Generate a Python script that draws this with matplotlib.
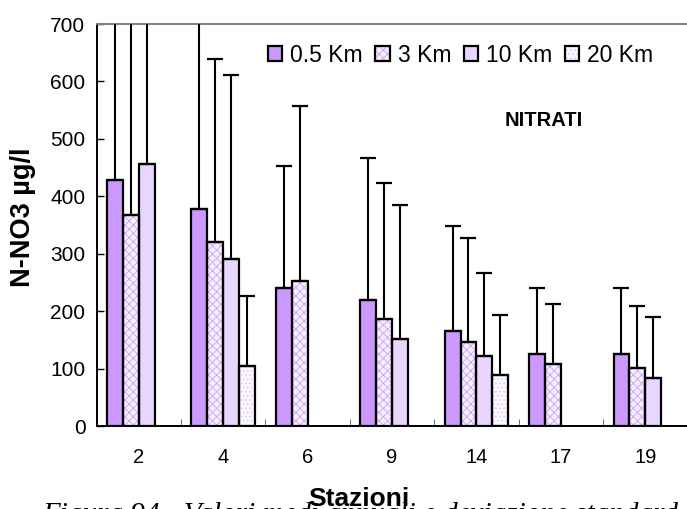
import matplotlib
matplotlib.use("Agg")
import matplotlib.pyplot as plt
import numpy as np
from matplotlib.patches import Patch
from matplotlib.legend_handler import HandlerTuple

plt.rcParams['font.family'] = ['Liberation Sans', 'DejaVu Sans']
plt.rcParams['hatch.linewidth'] = 0.6

stations = ['2', '4', '6', '9', '14', '17', '19']
series = ['0.5 Km', '3 Km', '10 Km', '20 Km']
mean_05 = [428, 378, 241, 219, 166, 125, 125]
mean_3 = [367, 321, 252, 187, 147, 108, 101]
mean_10 = [457, 291, np.nan, 151, 122, np.nan, 83]
mean_20 = [np.nan, 104, np.nan, np.nan, 89, np.nan, np.nan]
sd_05 = [520, 420, 212, 248, 182, 115, 115]
sd_3 = [480, 318, 305, 237, 180, 104, 108]
sd_10 = [400, 320, np.nan, 233, 144, np.nan, 107]
sd_20 = [np.nan, 123, np.nan, np.nan, 105, np.nan, np.nan]

means = [mean_05, mean_3, mean_10, mean_20]
sds = [sd_05, sd_3, sd_10, sd_20]
faces = ['#CC99FF', '#F6EEFF', '#E8D6FF', '#FBF7FF']
hatches = [None, 'xxxx', None, '....']
hatchcols = [None, '#C9A0F5', None, '#DCC6F5']

W, H = 687, 509
fig = plt.figure(figsize=(W / 100, H / 100), dpi=100)
ax = fig.add_axes([96.5 / W, 83 / H, (687.5 - 96.5) / W, (426 - 24) / H])

x = np.arange(len(stations))
w = 0.188
handles = []
for j in range(4):
    pos = x + (j - 1.5) * w
    m = np.array(means[j], dtype=float)
    s = np.array(sds[j], dtype=float)
    if hatches[j]:
        ax.bar(pos, m, w, color=faces[j], hatch=hatches[j], edgecolor=hatchcols[j],
               linewidth=0, zorder=2)
    else:
        ax.bar(pos, m, w, color=faces[j], linewidth=0, zorder=2)
    ax.bar(pos, m, w, fill=False, edgecolor='black', linewidth=1.6, zorder=3)
    ok = ~np.isnan(m)
    ax.errorbar(pos[ok], m[ok], yerr=[np.zeros(ok.sum()), s[ok]], fmt='none',
                ecolor='black', elinewidth=1.5, capsize=5.6, capthick=1.6, zorder=4)
    if hatches[j]:
        h1 = Patch(facecolor=faces[j], hatch=hatches[j], edgecolor=hatchcols[j], linewidth=0)
    else:
        h1 = Patch(facecolor=faces[j], linewidth=0)
    h2 = Patch(fill=False, edgecolor='black', linewidth=1.6)
    handles.append((h1, h2))

ax.set_xlim(-0.5, len(stations) - 0.5)
ax.set_ylim(0, 700)
ax.set_yticks(np.arange(0, 701, 100))
ax.set_xticks(x)
ax.set_xticklabels(stations)
ax.set_xticks(np.arange(0.5, len(stations) - 0.5, 1), minor=True)
ax.tick_params(axis='x', which='major', length=0, pad=16, labelsize=14.5)
ax.tick_params(axis='x', which='minor', direction='in', length=5, color='#555555')
ax.tick_params(axis='y', direction='in', length=5, width=1, pad=8, labelsize=15)

for side in ['left', 'bottom']:
    ax.spines[side].set_color('black')
    ax.spines[side].set_linewidth(1.4)
ax.spines['top'].set_color('#808080')
ax.spines['top'].set_linewidth(1.4)
ax.spines['right'].set_visible(False)

fig.legend(handles, series, loc='center left', bbox_to_anchor=(268 / W, 1 - 55 / H),
           ncol=4, frameon=False, fontsize=16.5, handlelength=0.62, handleheight=0.62,
           handletextpad=0.35, columnspacing=0.55, borderpad=0, borderaxespad=0,
           handler_map={tuple: HandlerTuple(ndivide=1, pad=0)})

fig.text(544 / W, 1 - 121 / H, 'NITRATI', fontsize=14.5, fontweight='bold',
         ha='center', va='center')
fig.text(23 / W, 1 - 217 / H, 'N-NO3 µg/l', fontsize=19.5, fontweight='bold',
         rotation=90, ha='center', va='center')

fig.text(42 / W, 1 - 521.5 / H, 'Figura 94 - Valori medi annuali e deviazione standard',
         fontsize=21, style='italic', family=['Liberation Serif', 'DejaVu Serif'],
         ha='left', va='baseline', zorder=1)
fig.text(359 / W, 1 - 506 / H, 'Stazioni', fontsize=19, fontweight='bold',
         ha='center', va='baseline', zorder=5)

fig.savefig('out.png', dpi=100)
